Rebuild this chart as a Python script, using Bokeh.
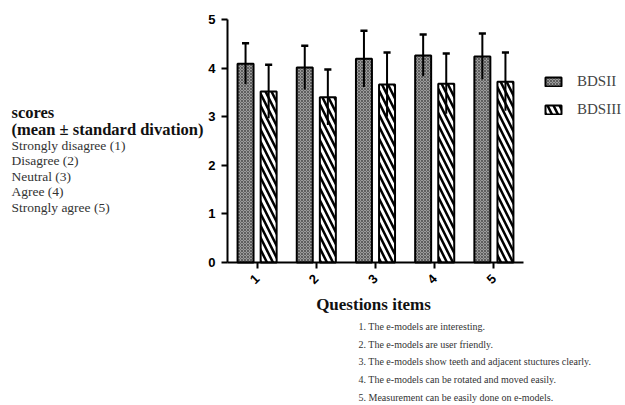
import math
from bokeh.plotting import figure
from bokeh.models import (ColumnDataSource, Label, Legend, LegendItem, FixedTicker,
                          Range1d)
from bokeh.embed import file_html
from bokeh.resources import INLINE

# ---- data ----
questions = [1, 2, 3, 4, 5]
bdsii_mean = [4.09, 4.01, 4.19, 4.26, 4.24]
bdsii_sd = [0.42, 0.45, 0.58, 0.43, 0.47]
bdsiii_mean = [3.52, 3.40, 3.66, 3.68, 3.72]
bdsiii_sd = [0.55, 0.57, 0.66, 0.62, 0.60]
series_names = ["BDSII", "BDSIII"]
y_ticks = [0, 1, 2, 3, 4, 5]
x_label = "Questions items"
left_title = ["scores", "(mean \u00b1  standard divation)"]
left_lines = ["Strongly disagree (1)", "Disagree (2)", "Neutral (3)",
              "Agree (4)", "Strongly agree (5)"]
bottom_lines = ["1. The e-models are interesting.",
                "2. The e-models are user friendly.",
                "3. The e-models show teeth and adjacent stuctures clearly.",
                "4. The e-models can be rotated and moved easily.",
                "5. Measurement can be easily done on e-models."]

# ---- layout (pixels of the 625x405 picture) ----
W, H = 625, 405
AX_L, AX_R = 227, 523        # x axis from 0.5 to 5.5
AX_B, AX_T = 262, 19         # y axis from 0 to 5
x_lo, x_hi, y_lo, y_hi = 0.5, 5.5, 0, 5
kx = (AX_R - AX_L) / (x_hi - x_lo)
ky = (AX_B - AX_T) / (y_hi - y_lo)

p = figure(width=W, height=H, output_backend="svg", toolbar_location=None,
           x_range=Range1d(x_lo - AX_L / kx, x_lo + (W - AX_L) / kx),
           y_range=Range1d(y_lo - (H - AX_B) / ky, y_hi + AX_T / ky),
           min_border=0)
p.outline_line_color = None
p.grid.visible = False
p.background_fill_color = "white"

off = 0.195
bw = 0.27
x1 = [q - off for q in questions]
x2 = [q + off for q in questions]


def src(xs, means, sds):
    return ColumnDataSource(dict(x=xs, top=means,
                                 lo=[m - s for m, s in zip(means, sds)],
                                 hi=[m + s for m, s in zip(means, sds)],
                                 cl=[x - 0.06 for x in xs], cr=[x + 0.06 for x in xs]))


src1 = src(x1, bdsii_mean, bdsii_sd)
src2 = src(x2, bdsiii_mean, bdsiii_sd)

r1 = p.vbar(x="x", top="top", bottom=0, width=bw, source=src1,
            fill_color="#9c9c9c", line_color="black", line_width=2,
            hatch_pattern="x", hatch_scale=3, hatch_color="#454545", hatch_weight=0.7)
r2 = p.vbar(x="x", top="top", bottom=0, width=bw, source=src2,
            fill_color="white", line_color="black", line_width=2,
            hatch_pattern="\\", hatch_scale=12, hatch_color="black", hatch_weight=2.5)

for s in (src1, src2):
    p.segment(x0="x", y0="lo", x1="x", y1="hi", source=s, line_color="black", line_width=2)
    p.segment(x0="cl", y0="hi", x1="cr", y1="hi", source=s, line_color="black", line_width=2.5)

# axes, pinned at the data origin
p.xaxis.fixed_location = y_lo
p.yaxis.fixed_location = x_lo
p.xaxis.bounds = (x_lo, x_hi)
p.yaxis.bounds = (y_lo, y_hi)
for ax in (p.xaxis[0], p.yaxis[0]):
    ax.axis_line_width = 2
    ax.major_tick_line_width = 2
    ax.minor_tick_line_color = None
    ax.major_tick_out = 6
    ax.major_tick_in = 0
    ax.major_label_text_font = "Liberation Sans"
    ax.major_label_text_font_style = "bold"
    ax.major_label_text_font_size = "13px"
    ax.major_label_text_color = "black"
p.yaxis.ticker = FixedTicker(ticks=y_ticks)
p.yaxis.major_label_standoff = 6
p.xaxis.ticker = FixedTicker(ticks=questions)
p.xaxis.major_label_orientation = math.pi / 4
p.xaxis.major_label_standoff = 8

legend = Legend(items=[LegendItem(label=series_names[0], renderers=[r1]),
                       LegendItem(label=series_names[1], renderers=[r2])],
                location=(543, H - 118), label_text_font="Liberation Serif",
                label_text_font_size="15px", glyph_width=20, glyph_height=11,
                label_standoff=14, spacing=11, border_line_alpha=0,
                background_fill_alpha=0, padding=0, margin=0)
p.add_layout(legend, "center")

# free texts (screen units: x from the left, y up from the bottom)
p.add_layout(Label(x=373, y=H - 304, x_units="screen", y_units="screen", text=x_label,
                   text_font="Liberation Serif", text_font_style="bold",
                   text_font_size="17px", text_color="#111", text_align="center",
                   text_baseline="alphabetic"))
for t, by in zip(left_title, [112, 129]):
    p.add_layout(Label(x=11, y=H - by, x_units="screen", y_units="screen", text=t,
                       text_font="Liberation Serif", text_font_style="bold",
                       text_font_size="16.5px", text_color="#111",
                       text_baseline="alphabetic"))
for t, by in zip(left_lines, [145, 160, 176, 191, 207]):
    p.add_layout(Label(x=11, y=H - by, x_units="screen", y_units="screen",
                       text=t, text_font="Liberation Serif", text_font_size="13.5px",
                       text_color="#333", text_baseline="alphabetic"))
for t, by in zip(bottom_lines, [326, 344, 361, 379, 397]):
    p.add_layout(Label(x=358, y=H - by, x_units="screen", y_units="screen",
                       text=t, text_font="Liberation Serif", text_font_size="10px",
                       text_color="#333", text_baseline="alphabetic"))

open("out.html", "w").write(file_html(p, INLINE))
